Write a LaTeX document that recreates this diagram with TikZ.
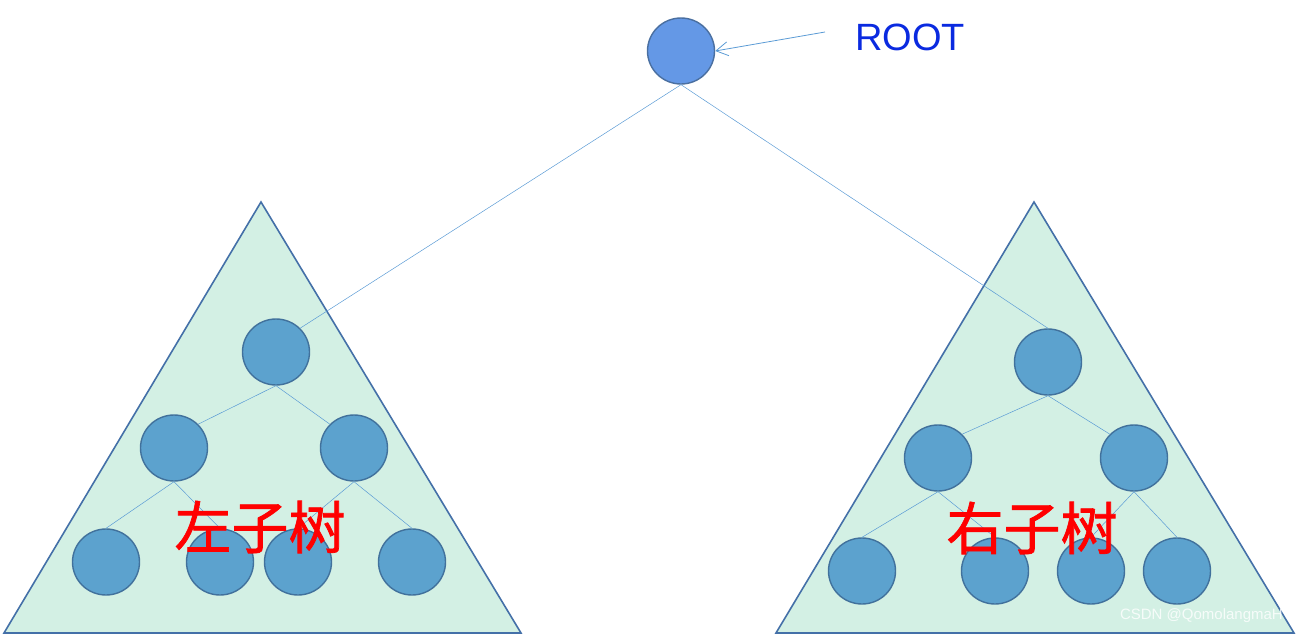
\documentclass[tikz,border=0pt]{standalone}
\usepackage{fontspec}
\setmainfont{Liberation Sans}
\newfontfamily\cjk{Noto Sans CJK SC}[FakeBold=1.2]
\usetikzlibrary{shapes.geometric,arrows.meta}
\definecolor{trifill}{HTML}{D3F0E4}
\definecolor{tristroke}{HTML}{4470A8}
\definecolor{nodefill}{HTML}{5CA2CE}
\definecolor{nodestroke}{HTML}{41719C}
\definecolor{rootfill}{HTML}{6498E6}
\definecolor{rootstroke}{HTML}{4A6FA0}
\definecolor{edgecol}{HTML}{5B9BD5}
\definecolor{rootlbl}{HTML}{0A2AE0}
\tikzset{
  tri/.style={draw=tristroke,fill=trifill,line width=1.6pt,line join=miter},
  tnode/.style={ellipse,draw=nodestroke,fill=nodefill,line width=1.4pt,minimum width=67pt,minimum height=66pt,inner sep=0pt},
  rnode/.style={ellipse,draw=rootstroke,fill=rootfill,line width=1.4pt,minimum width=67pt,minimum height=66pt,inner sep=0pt},
  edge/.style={draw=edgecol,line width=0.5pt},
  bigcjk/.style={text=red,font=\cjk\fontsize{57}{60}\selectfont,inner sep=0pt},
}
\begin{document}
\begin{tikzpicture}[x=1pt,y=-1pt]
\useasboundingbox (0,0) rectangle (1296,635);
% triangles
\draw[tri] (261,202) -- (521,633) -- (4,633) -- cycle;
\draw[tri] (1034,202) -- (1294,633) -- (776,633) -- cycle;
% root
\node[rnode] (root) at (681,51) {};
\node[text=rootlbl,font=\fontsize{38}{40}\selectfont,inner sep=0pt] (rootlabel) at (910,37) {ROOT};
\coordinate (arrowstart) at (825,32);
\draw[draw=edgecol,line width=0.8pt,-{Straight Barb[length=12pt,width=14pt,line width=0.8pt]}] (arrowstart) -- (root.east);
% left subtree
\node[tnode] (L) at (276,352) {};
\node[tnode] (LA) at (174,448) {};
\node[tnode] (LB) at (354,448) {};
\node[tnode] (LA1) at (106,562) {};
\node[tnode] (LA2) at (220,562) {};
\node[tnode] (LB1) at (298,562) {};
\node[tnode] (LB2) at (412,562) {};
% right subtree
\node[tnode] (R) at (1048,362) {};
\node[tnode] (RA) at (938,458) {};
\node[tnode] (RB) at (1134,458) {};
\node[tnode] (RA1) at (862,571) {};
\node[tnode] (RA2) at (995,571) {};
\node[tnode] (RB1) at (1091,571) {};
\node[tnode] (RB2) at (1177,571) {};
% edges
\path[edge] (root.south) -- (L.north east);
\path[edge] (root.south) -- (R.north);
\path[edge] (L.south) -- (LA.north east);
\path[edge] (L.south) -- (LB.north west);
\path[edge] (LA.south) -- (LA1.north);
\path[edge] (LA.south) -- (LA2.north);
\path[edge] (LB.south) -- (LB1.north);
\path[edge] (LB.south) -- (LB2.north);
\path[edge] (R.south) -- (RA.north east);
\path[edge] (R.south) -- (RB.north west);
\path[edge] (RA.south) -- (RA1.north);
\path[edge] (RA.south) -- (RA2.north);
\path[edge] (RB.south) -- (RB1.north);
\path[edge] (RB.south) -- (RB2.north);
% labels
\node[bigcjk] (lefttext) at (260,527) {左子树};
\node[bigcjk] (righttext) at (1032,528) {右子树};
\node[text=white,opacity=0.8,font=\fontsize{15}{16}\selectfont,inner sep=0pt,anchor=east] (wm) at (1283,616) {CSDN @QomolangmaH};
\end{tikzpicture}
\end{document}
